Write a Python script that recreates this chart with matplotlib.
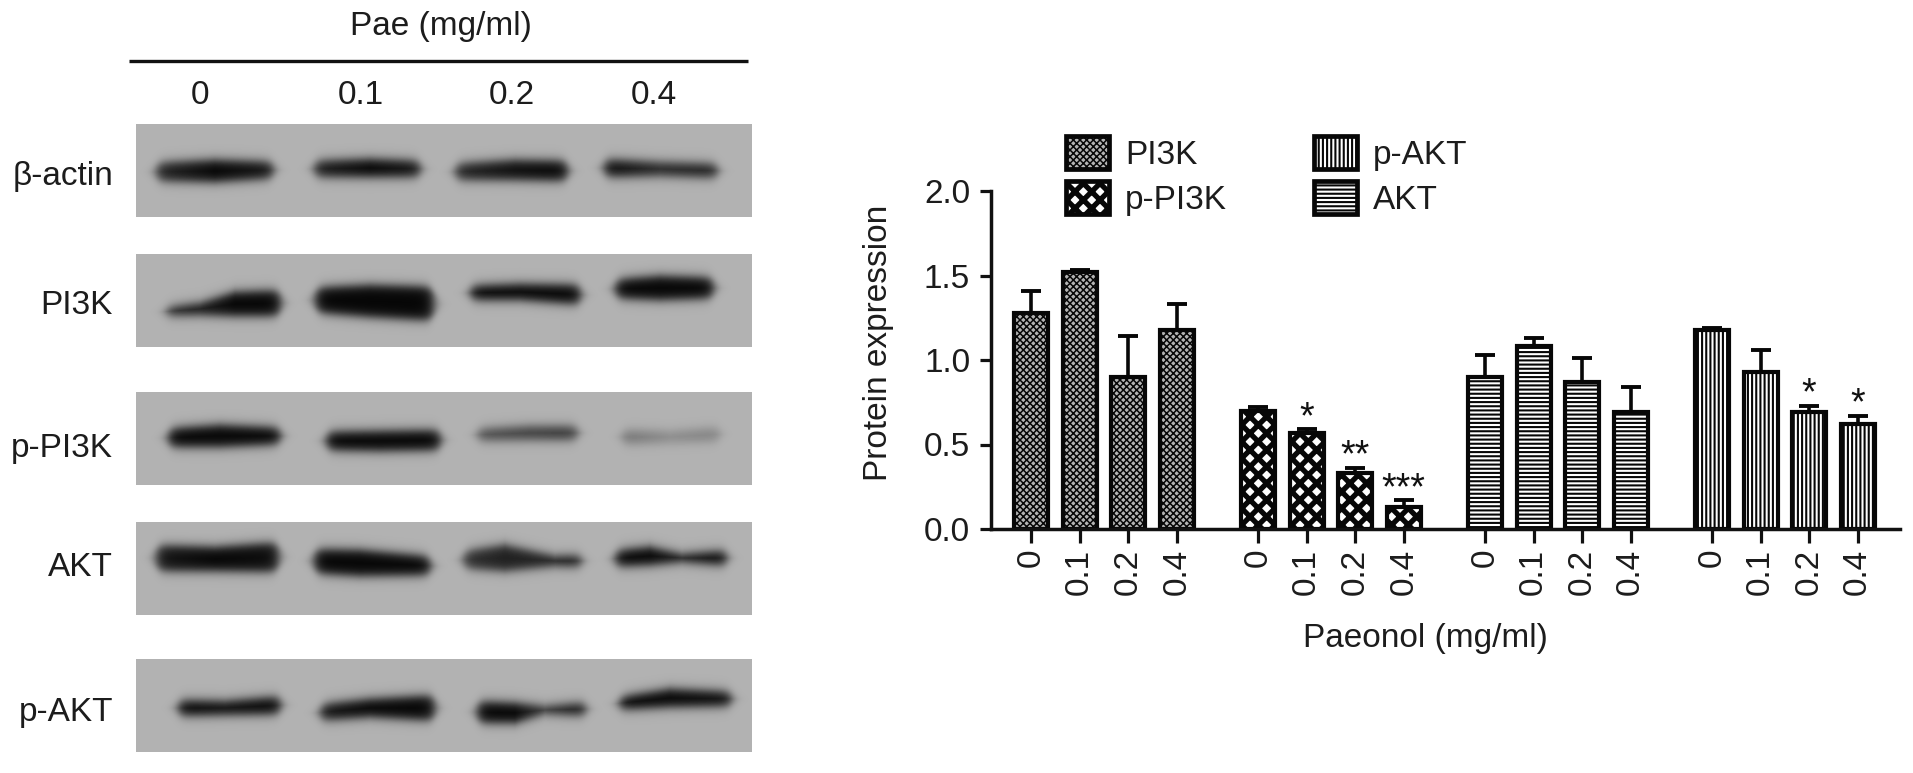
import numpy as np
import matplotlib
matplotlib.use("Agg")
import matplotlib.pyplot as plt
from matplotlib.patches import Patch

W, H = 1913, 773
plt.rcParams['font.family'] = ['Liberation Sans', 'DejaVu Sans']
INK = '#1c1c1c'
FS = 24

# ---- chart data ----
doses = ['0', '0.1', '0.2', '0.4']
pi3k = [1.28, 1.52, 0.90, 1.18]
pi3k_err = [0.13, 0.01, 0.24, 0.15]
p_pi3k = [0.70, 0.57, 0.33, 0.13]
p_pi3k_err = [0.02, 0.02, 0.03, 0.04]
akt = [0.90, 1.08, 0.87, 0.69]
akt_err = [0.13, 0.05, 0.14, 0.15]
p_akt = [1.18, 0.93, 0.69, 0.62]
p_akt_err = [0.01, 0.13, 0.04, 0.05]
p_pi3k_stars = ['', '*', '**', '***']
p_akt_stars = ['', '', '*', '*']
empty_stars = ['', '', '', '']

# ---- blot rows: label, panel top, panel bottom, label y ----
blot_labels = ['\u03b2-actin', 'PI3K', 'p-PI3K', 'AKT', 'p-AKT']
blot_tops = [124, 254, 392, 522, 659]
blot_bottoms = [217, 347, 485, 615, 752]
blot_label_y = [176, 305, 448, 568, 712]
lane_x = [200, 361, 512, 654]

# bands: each band is a list of (x, y centre, half thickness, darkness)
bands_actin = [
    [(150, 172, 8, .8), (215, 171, 10, 1), (280, 170, 7, .9)],
    [(308, 169, 7, .85), (370, 168, 8, 1), (427, 169, 7, .9)],
    [(449, 172, 7, .8), (515, 170, 9, .95), (574, 171, 9, 1)],
    [(598, 168, 8, 1), (660, 169, 6, .8), (724, 171, 6, .85)],
]
bands_pi3k = [
    [(160, 312, 3, .8), (200, 309, 5, .9), (235, 304, 11, 1), (287, 303, 12, 1)],
    [(309, 300, 11, 1), (370, 301, 15, 1), (440, 304, 16, 1)],
    [(464, 293, 6, 1), (520, 292, 7, 1), (587, 295, 9, 1)],
    [(609, 289, 8, 1), (660, 288, 11, 1), (720, 288, 9, 1)],
]
bands_p_pi3k = [
    [(162, 438, 8, 1), (220, 436, 10, 1), (287, 436, 7, 1)],
    [(320, 441, 8, 1), (380, 441, 9, 1), (447, 440, 9, 1)],
    [(471, 435, 5, .55), (530, 433, 6, .65), (584, 433, 6, .7)],
    [(616, 437, 6, .38), (670, 437, 5, .22), (726, 434, 6, .28)],
]
bands_akt = [
    [(150, 558, 12, .9), (215, 559, 11, 1), (285, 557, 14, .95)],
    [(308, 561, 11, 1), (360, 563, 12, 1), (437, 566, 8, 1)],
    [(457, 560, 7, .75), (505, 558, 12, .85), (555, 561, 4, .85), (588, 561, 5, .9)],
    [(609, 559, 7, 1), (650, 556, 8, 1), (682, 558, 3, .9), (733, 558, 7, 1)],
]
bands_p_akt = [
    [(172, 708, 7, 1), (225, 708, 6, .95), (287, 705, 8, 1)],
    [(314, 713, 7, .9), (370, 708, 8, 1), (441, 708, 12, 1)],
    [(471, 712, 10, 1), (515, 713, 9, 1), (545, 710, 3, .75), (592, 709, 6, .95)],
    [(613, 704, 5, 1), (670, 698, 8, 1), (738, 699, 6, .95)],
]
blot_bands = [bands_actin, bands_pi3k, bands_p_pi3k, bands_akt, bands_p_akt]

fig = plt.figure(figsize=(W / 100, H / 100), dpi=100)

# ---- left: blot panel, drawn in figure pixel coordinates ----
ov = fig.add_axes([0, 0, 1, 1])
ov.set_xlim(0, W)
ov.set_ylim(H, 0)
ov.axis('off')


def render(top, bottom, bands, x0=136, x1=752):
    xs = np.arange(x0, x1) + .5
    ys = np.arange(top, bottom) + .5
    X, Y = np.meshgrid(xs, ys)
    dark = np.zeros_like(X)
    for band in bands:
        b = np.array(band, float)
        yc = np.interp(xs, b[:, 0], b[:, 1])
        hw = np.interp(xs, b[:, 0], b[:, 2]) + 1
        dk = np.interp(xs, b[:, 0], b[:, 3])
        taper = 1 / (1 + np.exp(-(xs - b[0, 0] - 6) / 3.5)) * 1 / (1 + np.exp((xs - b[-1, 0] + 6) / 3.5))
        prof = 1 / (1 + np.exp((np.abs(Y - yc) - hw * np.sqrt(np.clip(taper, 0.02, 1))) / 3.0))
        dark = np.maximum(dark, prof * dk * taper)
    return 178 - 172 * dark


for row, (t, b, bands) in enumerate(zip(blot_tops, blot_bottoms, blot_bands)):
    ov.imshow(render(t, b, bands), cmap='gray', vmin=0, vmax=255,
              extent=(136, 752, b, t), aspect='auto', interpolation='bilinear')
    ov.text(113, blot_label_y[row], blot_labels[row], ha='right', va='center',
            fontsize=FS, color=INK)
ov.set_xlim(0, W)
ov.set_ylim(H, 0)
ov.plot([129, 748], [61, 61], color='#111111', lw=2.4, solid_capstyle='butt')
ov.text(441, 27, 'Pae (mg/ml)', ha='center', va='center', fontsize=FS, color=INK)
for x, lab in zip(lane_x, doses):
    ov.text(x, 95, lab, ha='center', va='center', fontsize=FS, color=INK)

# ---- right: bar chart ----
L, R, T, B = 991, 1900, 191, 529
ax = fig.add_axes([L / W, 1 - B / H, (R - L) / W, (B - T) / H])
ax.patch.set_alpha(0)
series = [
    ('PI3K', pi3k, pi3k_err, empty_stars, 'xxxxx', '#b4b4b4', 1.1),
    ('p-PI3K', p_pi3k, p_pi3k_err, p_pi3k_stars, 'xx', 'white', 3.8),
    ('AKT', akt, akt_err, empty_stars, '----', 'white', 1.5),
    ('p-AKT', p_akt, p_akt_err, p_akt_stars, '||||', 'white', 1.5),
]
EDGE = '#070707'
GROUP = 4.67
pos, labs = [], []
for g, (name, vals, errs, stars, hatch, fc, hlw) in enumerate(series):
    xs = g * GROUP + np.arange(len(vals))
    bars = ax.bar(xs, vals, width=0.70, facecolor=fc, edgecolor=EDGE, hatch=hatch, linewidth=3.0, zorder=2)
    for bar in bars:
        bar.set_hatch_linewidth(hlw)
    ax.errorbar(xs, vals, yerr=[np.zeros(len(errs)), errs], fmt='none', ecolor=EDGE,
                elinewidth=2.6, capsize=7.5, capthick=2.8, zorder=1)
    for x, v, e, s in zip(xs, vals, errs, stars):
        if s:
            ax.annotate(s, (x, v + e), xytext=(0, 1), textcoords='offset points', ha='center',
                        va='baseline', fontsize=27, color='#111111')
    pos += list(xs)
    labs += doses

ax.set_xlim(-0.823, 17.88)
ax.set_ylim(0, 2.0)
ax.set_yticks([0, 0.5, 1.0, 1.5, 2.0])
ax.set_yticklabels(['0.0', '0.5', '1.0', '1.5', '2.0'])
ax.set_xticks(pos)
ax.set_xticklabels(labs, rotation=90)
ax.tick_params(axis='y', length=8, width=2.3, pad=7, labelsize=FS, labelcolor=INK, color='#111111')
ax.tick_params(axis='x', length=10, width=2.3, pad=4, labelsize=FS, labelcolor=INK, color='#111111')
for s in ('top', 'right'):
    ax.spines[s].set_visible(False)
for s in ('left', 'bottom'):
    ax.spines[s].set_linewidth(2.5)
    ax.spines[s].set_color('#111111')

ov.text(878, 343, 'Protein expression', rotation=90, ha='center', va='center', fontsize=FS, color=INK)
ov.text(1425, 639, 'Paeonol (mg/ml)', ha='center', va='center', fontsize=FS, color=INK)

by_name = {s[0]: s for s in series}
legend_order = ['PI3K', 'p-PI3K', 'p-AKT', 'AKT']
handles = [Patch(facecolor=by_name[n][5], edgecolor=EDGE, hatch=by_name[n][4], linewidth=3.4, label=n,
                 joinstyle='round') for n in legend_order]
leg = ax.legend(handles=handles, ncol=2, loc='upper left', bbox_to_anchor=(1066 / W, 1 - 136 / H),
                bbox_transform=fig.transFigure, frameon=False, fontsize=FS, borderpad=0, borderaxespad=0,
                handlelength=1.3, handleheight=1.15, handletextpad=0.47, columnspacing=2.6,
                labelspacing=0.3, labelcolor=INK)
for patch, n in zip(leg.get_patches(), legend_order):
    patch.set_hatch_linewidth(by_name[n][6])

fig.savefig('out.png', dpi=100)
